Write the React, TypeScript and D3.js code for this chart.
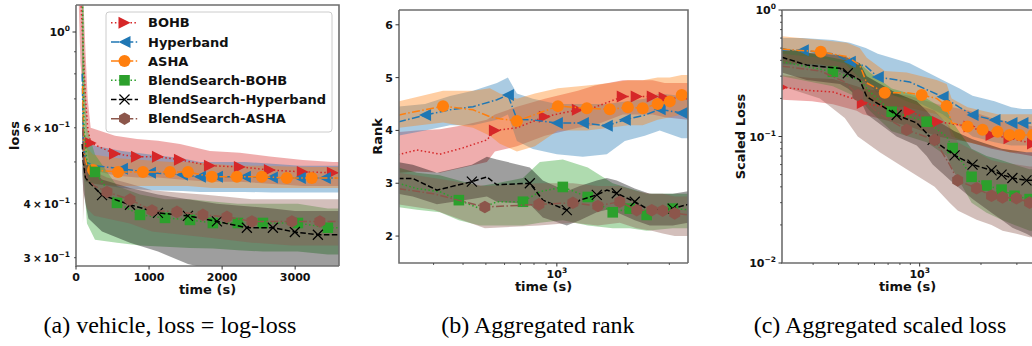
import React from 'react';
import * as d3 from 'd3';

type Row = [number, number, number, number, number]; // time, mean, lower, upper, marker flag

const NAMES = ['BOHB', 'Hyperband', 'ASHA', 'BlendSearch-BOHB', 'BlendSearch-Hyperband', 'BlendSearch-ASHA'];
const COLORS = ['#d62728', '#1f77b4', '#ff7f0e', '#2ca02c', '#000000', '#8c564b'];
const DASHES = ['1.5,2.4', '8,2.4,1.5,2.4', '8,2.4,1.5,2.4', '1.5,2.4', '5.5,2.4', '8,2.4,1.5,2.4'];
const MARKERS = ['tri-right', 'tri-left', 'circle', 'square', 'x', 'hexagon'];

// ---------- Panel (a): vehicle loss ----------
const A_BOHB: Row[] = [
  [30, 1.6, 1.3, 2.0, 0], [60, 1.25, 0.85, 1.6, 0], [100, 0.9, 0.7, 1.2, 0], [130, 0.7, 0.58, 0.9, 0],
  [160, 0.6, 0.52, 0.7, 0], [201, 0.553, 0.48, 0.6, 1], [534, 0.522, 0.465, 0.575, 1], [834, 0.514, 0.46, 0.565, 1],
  [1122, 0.514, 0.46, 0.56, 1], [1423, 0.506, 0.455, 0.55, 1], [1833, 0.49, 0.45, 0.53, 1], [2243, 0.487, 0.45, 0.525, 1],
  [2654, 0.479, 0.445, 0.515, 1], [3105, 0.474, 0.44, 0.505, 1], [3516, 0.472, 0.44, 0.5, 1], [3600, 0.472, 0.44, 0.5, 0],
];
const A_HYPERBAND: Row[] = [
  [85, 0.8, 0.6, 1.0, 0], [100, 0.55, 0.47, 0.65, 0], [130, 0.5, 0.45, 0.57, 0], [250, 0.49, 0.445, 0.545, 0],
  [629, 0.482, 0.435, 0.53, 1], [1012, 0.472, 0.43, 0.52, 1], [1450, 0.467, 0.428, 0.51, 1], [1696, 0.462, 0.426, 0.5, 1],
  [1929, 0.462, 0.426, 0.5, 1], [2312, 0.462, 0.426, 0.5, 1], [2681, 0.46, 0.425, 0.495, 1], [3064, 0.459, 0.425, 0.49, 1],
  [3406, 0.459, 0.425, 0.49, 1], [3600, 0.459, 0.425, 0.49, 0],
];
const A_ASHA: Row[] = [
  [90, 0.75, 0.55, 0.95, 0], [110, 0.52, 0.46, 0.6, 0], [150, 0.49, 0.45, 0.54, 0], [233, 0.479, 0.445, 0.52, 1],
  [575, 0.474, 0.44, 0.51, 1], [917, 0.474, 0.44, 0.505, 1], [1286, 0.474, 0.44, 0.5, 1], [1532, 0.474, 0.44, 0.5, 1],
  [1860, 0.462, 0.435, 0.495, 1], [2202, 0.462, 0.435, 0.49, 1], [2544, 0.462, 0.435, 0.49, 1], [2886, 0.459, 0.435, 0.488, 1],
  [3228, 0.459, 0.435, 0.487, 1], [3600, 0.459, 0.435, 0.487, 0],
];
const A_BS_BOHB: Row[] = [
  [80, 1.5, 0.9, 1.6, 0], [95, 1.0, 0.6, 1.4, 0], [110, 0.6, 0.45, 0.9, 0], [150, 0.5, 0.36, 0.6, 0],
  [260, 0.474, 0.33, 0.52, 1], [561, 0.402, 0.325, 0.44, 1], [876, 0.377, 0.32, 0.42, 1], [1218, 0.371, 0.318, 0.41, 1],
  [1560, 0.367, 0.316, 0.41, 1], [1874, 0.361, 0.315, 0.405, 1], [2216, 0.361, 0.312, 0.4, 1], [2558, 0.361, 0.31, 0.4, 1],
  [3037, 0.361, 0.31, 0.4, 1], [3447, 0.352, 0.305, 0.39, 1], [3600, 0.352, 0.305, 0.39, 0],
];
const A_BS_HYPERBAND: Row[] = [
  [85, 0.55, 0.47, 0.62, 0], [100, 0.5, 0.43, 0.56, 0], [130, 0.46, 0.4, 0.51, 0], [170, 0.45, 0.37, 0.49, 0],
  [356, 0.419, 0.345, 0.455, 1], [739, 0.398, 0.325, 0.435, 1], [1122, 0.381, 0.31, 0.42, 1], [1532, 0.375, 0.29, 0.41, 1],
  [1929, 0.364, 0.28, 0.4, 1], [2339, 0.352, 0.28, 0.395, 1], [2695, 0.352, 0.28, 0.39, 1], [2996, 0.344, 0.28, 0.385, 1],
  [3311, 0.339, 0.28, 0.385, 1], [3600, 0.339, 0.28, 0.385, 0],
];
const A_BS_ASHA: Row[] = [
  [95, 0.6, 0.36, 0.68, 0], [110, 0.5, 0.42, 0.55, 0], [150, 0.46, 0.39, 0.5, 0], [250, 0.44, 0.375, 0.475, 0],
  [424, 0.426, 0.37, 0.46, 1], [739, 0.409, 0.36, 0.445, 1], [1040, 0.386, 0.345, 0.43, 1], [1382, 0.383, 0.34, 0.425, 1],
  [1737, 0.377, 0.335, 0.42, 1], [2066, 0.373, 0.33, 0.415, 1], [2408, 0.364, 0.325, 0.41, 1], [2955, 0.364, 0.32, 0.41, 1],
  [3338, 0.364, 0.32, 0.41, 1], [3600, 0.364, 0.32, 0.41, 0],
];

// ---------- Panel (b): aggregated rank ----------
const B_BOHB: Row[] = [
  [212, 3.54, 3.2, 3.97, 0], [255, 3.63, 3.22, 4.0, 0], [319, 3.55, 3.2, 4.02, 0], [400, 3.67, 3.3, 4.1, 0],
  [505, 3.82, 3.4, 4.2, 0], [546, 4.0, 3.6, 4.3, 1], [677, 4.05, 3.7, 4.45, 0], [889, 4.26, 3.9, 4.6, 1],
  [1227, 4.39, 4.05, 4.75, 1], [1449, 4.44, 4.1, 4.85, 0], [1903, 4.64, 4.3, 4.95, 1], [2181, 4.64, 4.3, 4.95, 1],
  [2551, 4.64, 4.3, 4.95, 1], [2867, 4.62, 4.25, 4.9, 1], [3600, 4.6, 4.2, 4.9, 0],
];
const B_HYPERBAND: Row[] = [
  [212, 4.16, 3.9, 4.45, 0], [276, 4.29, 4.0, 4.5, 1], [352, 4.39, 4.1, 4.65, 0], [441, 4.45, 4.1, 4.75, 0],
  [557, 4.58, 4.2, 4.9, 0], [620, 4.67, 4.3, 5.0, 1], [677, 4.21, 3.8, 4.7, 0], [791, 4.2, 3.65, 4.6, 0],
  [1000, 4.14, 3.55, 4.5, 1], [1289, 4.14, 3.5, 4.5, 1], [1629, 4.09, 3.55, 4.5, 1], [1942, 4.2, 3.8, 4.55, 1],
  [2360, 4.29, 3.9, 4.6, 0], [2731, 4.4, 4.0, 4.7, 1], [3386, 4.33, 3.85, 4.65, 1], [3600, 4.35, 3.85, 4.65, 0],
];
const B_ASHA: Row[] = [
  [212, 4.29, 4.05, 4.55, 0], [329, 4.46, 4.15, 4.75, 1], [441, 4.39, 4.05, 4.75, 0], [520, 4.26, 3.9, 4.8, 0],
  [573, 4.22, 3.75, 4.7, 0], [677, 4.18, 3.6, 4.6, 1], [807, 4.3, 3.7, 4.7, 0], [1010, 4.46, 4.0, 4.8, 1],
  [1340, 4.42, 4.0, 4.85, 1], [1677, 4.4, 4.05, 4.9, 1], [2000, 4.44, 4.1, 4.95, 1], [2313, 4.42, 4.1, 4.95, 1],
  [2676, 4.5, 4.2, 5.0, 1], [3013, 4.55, 4.25, 5.0, 1], [3386, 4.67, 4.3, 5.05, 1], [3600, 4.7, 4.3, 5.05, 0],
];
const B_BS_BOHB: Row[] = [
  [212, 3.0, 2.55, 3.3, 0], [255, 2.9, 2.5, 3.2, 0], [319, 2.84, 2.45, 3.15, 0], [384, 2.68, 2.3, 3.05, 1],
  [472, 2.52, 2.2, 2.95, 0], [557, 2.65, 2.2, 3.0, 0], [718, 2.65, 2.2, 3.1, 1], [847, 2.84, 2.25, 3.4, 0],
  [1060, 2.93, 2.3, 3.45, 1], [1353, 2.74, 2.2, 3.3, 1], [1726, 2.45, 2.15, 3.0, 1], [2038, 2.52, 2.15, 2.9, 1],
  [2404, 2.4, 2.1, 2.8, 1], [3101, 2.52, 2.15, 2.8, 1], [3600, 2.5, 2.15, 2.8, 0],
];
const B_BS_HYPERBAND: Row[] = [
  [212, 3.09, 2.8, 3.4, 0], [245, 3.09, 2.75, 3.35, 0], [310, 2.87, 2.6, 3.2, 0], [436, 3.03, 2.7, 3.35, 1],
  [505, 3.12, 2.75, 3.5, 0], [557, 2.97, 2.65, 3.45, 0], [768, 3.0, 2.6, 3.3, 1], [872, 2.68, 2.35, 3.05, 0],
  [1102, 2.49, 2.2, 2.85, 1], [1252, 2.68, 2.3, 2.95, 0], [1477, 2.78, 2.45, 3.05, 1], [1629, 2.87, 2.5, 3.1, 0],
  [1795, 2.81, 2.45, 3.05, 1], [2140, 2.65, 2.3, 2.9, 1], [2477, 2.49, 2.2, 2.8, 0], [3101, 2.52, 2.2, 2.8, 1],
  [3600, 2.6, 2.25, 2.85, 0],
];
const B_BS_ASHA: Row[] = [
  [212, 2.9, 2.6, 3.2, 0], [300, 2.8, 2.5, 3.1, 0], [495, 2.55, 2.15, 2.95, 1], [839, 2.6, 2.2, 3.0, 1],
  [1169, 2.63, 2.25, 3.0, 1], [1492, 2.57, 2.2, 2.95, 1], [1849, 2.65, 2.25, 2.95, 1], [2181, 2.49, 2.15, 2.85, 1],
  [2527, 2.49, 2.1, 2.8, 1], [2812, 2.48, 2.05, 2.8, 1], [3162, 2.43, 2.0, 2.75, 1], [3600, 2.4, 2.0, 2.75, 0],
];

// ---------- Panel (c): aggregated scaled loss ----------
const C_BOHB: Row[] = [
  [211, 0.245, 0.195, 0.305, 1], [296, 0.23, 0.19, 0.29, 0], [375, 0.225, 0.18, 0.285, 0], [491, 0.195, 0.16, 0.25, 0],
  [526, 0.184, 0.15, 0.24, 1], [893, 0.157, 0.12, 0.21, 1], [1225, 0.131, 0.1, 0.18, 1], [1757, 0.12, 0.09, 0.16, 1],
  [2253, 0.103, 0.08, 0.14, 1], [2760, 0.097, 0.075, 0.13, 1], [3600, 0.088, 0.07, 0.12, 1],
];
const C_HYPERBAND: Row[] = [
  [211, 0.48, 0.37, 0.6, 0], [267, 0.48, 0.37, 0.6, 1], [375, 0.45, 0.34, 0.58, 0], [454, 0.39, 0.3, 0.55, 1],
  [544, 0.36, 0.27, 0.5, 0], [623, 0.295, 0.22, 0.45, 1], [893, 0.27, 0.2, 0.38, 0], [1296, 0.206, 0.15, 0.28, 1],
  [1570, 0.17, 0.12, 0.24, 0], [1818, 0.148, 0.1, 0.21, 1], [2330, 0.135, 0.09, 0.19, 1], [2823, 0.128, 0.085, 0.17, 1],
  [3196, 0.128, 0.085, 0.165, 1], [3600, 0.128, 0.085, 0.165, 0],
];
const C_ASHA: Row[] = [
  [211, 0.489, 0.38, 0.62, 0], [327, 0.468, 0.37, 0.58, 1], [439, 0.428, 0.33, 0.55, 0], [508, 0.367, 0.28, 0.5, 0],
  [550, 0.265, 0.2, 0.42, 0], [674, 0.222, 0.17, 0.33, 1], [863, 0.222, 0.17, 0.32, 0], [1023, 0.213, 0.16, 0.3, 1],
  [1211, 0.2, 0.15, 0.28, 0], [1356, 0.174, 0.13, 0.26, 1], [1435, 0.128, 0.1, 0.2, 0], [1718, 0.12, 0.09, 0.17, 1],
  [2036, 0.113, 0.085, 0.16, 1], [2412, 0.109, 0.08, 0.15, 1], [2760, 0.103, 0.075, 0.15, 1], [3089, 0.103, 0.075, 0.15, 1],
  [3600, 0.103, 0.075, 0.15, 1],
];
const C_BS_BOHB: Row[] = [
  [211, 0.39, 0.3, 0.5, 0], [375, 0.325, 0.25, 0.42, 1], [508, 0.28, 0.2, 0.38, 0], [569, 0.226, 0.16, 0.32, 0],
  [729, 0.157, 0.11, 0.24, 1], [1082, 0.131, 0.09, 0.2, 1], [1356, 0.1, 0.07, 0.16, 0], [1451, 0.081, 0.055, 0.13, 1],
  [1624, 0.062, 0.04, 0.1, 0], [1798, 0.048, 0.03, 0.08, 1], [2130, 0.041, 0.025, 0.07, 1], [2524, 0.038, 0.022, 0.065, 1],
  [2922, 0.034, 0.02, 0.06, 1], [3465, 0.032, 0.018, 0.055, 1], [3600, 0.032, 0.018, 0.055, 0],
];
const C_BS_HYPERBAND: Row[] = [
  [211, 0.423, 0.32, 0.5, 0], [279, 0.367, 0.28, 0.46, 0], [406, 0.346, 0.26, 0.44, 0], [444, 0.316, 0.24, 0.42, 1],
  [508, 0.28, 0.2, 0.38, 0], [550, 0.206, 0.15, 0.3, 0], [771, 0.148, 0.1, 0.22, 1], [967, 0.128, 0.085, 0.19, 0],
  [1082, 0.106, 0.07, 0.16, 0], [1158, 0.094, 0.06, 0.14, 1], [1484, 0.071, 0.042, 0.11, 1], [1818, 0.06, 0.032, 0.095, 1],
  [2253, 0.054, 0.025, 0.085, 1], [2524, 0.05, 0.022, 0.08, 1], [2853, 0.047, 0.019, 0.078, 1], [3344, 0.045, 0.017, 0.075, 1],
  [3600, 0.045, 0.016, 0.075, 0],
];
const C_BS_ASHA: Row[] = [
  [211, 0.36, 0.25, 0.45, 0], [324, 0.33, 0.2, 0.42, 0], [429, 0.27, 0.14, 0.38, 0], [497, 0.213, 0.1, 0.3, 1],
  [637, 0.15, 0.075, 0.24, 0], [863, 0.113, 0.055, 0.19, 1], [1184, 0.094, 0.04, 0.16, 1], [1403, 0.06, 0.03, 0.12, 0],
  [1536, 0.045, 0.026, 0.09, 1], [1903, 0.039, 0.022, 0.075, 1], [2253, 0.034, 0.02, 0.065, 1], [2551, 0.033, 0.018, 0.062, 1],
  [2986, 0.0325, 0.017, 0.06, 1], [3465, 0.03, 0.016, 0.058, 1], [3600, 0.03, 0.016, 0.058, 0],
];

// ---------- ticks & labels ----------
const A_X_TICKS = [0, 1000, 2000, 3000];
const A_Y_MAJOR = [1];
const A_Y_MINOR = [0.3, 0.4, 0.5, 0.6, 0.7, 0.8, 0.9];
const A_Y_MINOR_LABELED = [0.3, 0.4, 0.6];
const B_X_MAJOR = [1000];
const B_X_MINOR = [300, 400, 500, 600, 700, 800, 900, 2000, 3000];
const B_Y_TICKS = [2, 3, 4, 5, 6];
const C_X_MAJOR = [1000];
const C_X_MINOR = [300, 400, 500, 600, 700, 800, 900, 2000, 3000];
const C_Y_MAJOR = [0.01, 0.1, 1];
const C_Y_MINOR = [0.02, 0.03, 0.04, 0.05, 0.06, 0.07, 0.08, 0.09, 0.2, 0.3, 0.4, 0.5, 0.6, 0.7, 0.8, 0.9];
const X_LABEL = 'time (s)';
const Y_LABELS = ['loss', 'Rank', 'Scaled Loss'];
const CAPTIONS = ['(a) vehicle, loss = log-loss', '(b) Aggregated rank', '(c) Aggregated scaled loss'];

const SANS = "'DejaVu Sans', sans-serif";
const SERIF = "'Liberation Serif', 'Times New Roman', Times, serif";
const W = 1032;
const H = 346;
const TICK_COLOR = '#333';
const SPINE_COLOR = '#6e6e6e';

function Marker({ type, x, y, color }: { type: string; x: number; y: number; color: string }) {
  const s = 12;
  const h = s / 2;
  if (type === 'tri-right') return <path d={`M${x + h},${y}L${x - h},${y - h}L${x - h},${y + h}Z`} fill={color} />;
  if (type === 'tri-left') return <path d={`M${x - h},${y}L${x + h},${y - h}L${x + h},${y + h}Z`} fill={color} />;
  if (type === 'circle') return <circle cx={x} cy={y} r={6} fill={color} />;
  if (type === 'square') return <rect x={x - 5.3} y={y - 5.3} width={10.6} height={10.6} fill={color} />;
  if (type === 'x')
    return (
      <path d={`M${x - 5},${y - 5}L${x + 5},${y + 5}M${x - 5},${y + 5}L${x + 5},${y - 5}`} stroke={color} strokeWidth={1.2} fill="none" />
    );
  const r = 6.3;
  const pts = d3.range(6).map((i) => {
    const a = (Math.PI / 180) * (90 + 60 * i);
    return `${x + r * Math.cos(a)},${y - r * Math.sin(a)}`;
  });
  return <path d={`M${pts.join('L')}Z`} fill={color} />;
}

function Pow({ base, exp }: { base: string; exp: string }) {
  return (
    <>
      {base}
      <tspan dy={-5} fontSize={7.5}>
        {exp}
      </tspan>
    </>
  );
}

function fmtExp(v: number): string {
  const e = Math.round(Math.log10(v));
  return e < 0 ? `\u2212${-e}` : `${e}`;
}

type PanelProps = {
  id: string;
  x0: number; x1: number; y0: number; y1: number;
  xScale: any; yScale: any;
  series: Row[][];
  xMajor: number[]; xMinor: number[]; xLog: boolean;
  yMajor: number[]; yMinor: number[]; yMinorLabeled: number[]; yLog: boolean;
  yLabel: string; yLabelX: number;
};

function Panel(p: PanelProps) {
  const { x0, x1, y0, y1, xScale: xs, yScale: ys } = p;
  const area = d3.area<Row>().x((d) => xs(d[0])).y0((d) => ys(d[2])).y1((d) => ys(d[3]));
  const line = d3.line<Row>().x((d) => xs(d[0])).y((d) => ys(d[1]));
  const right = Math.min(x1, W + 5);
  return (
    <g>
      <defs>
        <clipPath id={p.id}>
          <rect x={x0} y={y0} width={x1 - x0} height={y1 - y0} />
        </clipPath>
      </defs>
      <g clipPath={`url(#${p.id})`}>
        {p.series.map((s, i) => (
          <path key={'b' + i} d={area(s) || ''} fill={COLORS[i]} fillOpacity={0.38} stroke="none" />
        ))}
        {p.series.map((s, i) => (
          <g key={'l' + i}>
            <path d={line(s) || ''} fill="none" stroke={COLORS[i]} strokeWidth={1.5} strokeDasharray={DASHES[i]} />
            {s.filter((d) => d[4] === 1).map((d, j) => (
              <Marker key={j} type={MARKERS[i]} x={xs(d[0])} y={ys(d[1])} color={COLORS[i]} />
            ))}
          </g>
        ))}
      </g>
      {/* spines */}
      <path d={`M${x0},${y0}L${x0},${y1}L${right},${y1}`} fill="none" stroke={SPINE_COLOR} strokeWidth={1.6} />
      <path d={`M${x0},${y0}L${right},${y0}${x1 <= W ? `L${x1},${y1}` : ''}`} fill="none" stroke={SPINE_COLOR} strokeWidth={1.6} />
      {/* x ticks */}
      {p.xMajor.map((t) => (
        <g key={'xm' + t}>
          <line x1={xs(t)} x2={xs(t)} y1={y1} y2={y1 + 3.5} stroke={TICK_COLOR} strokeWidth={1} />
          <text x={xs(t)} y={y1 + 15} textAnchor="middle" fontFamily={SANS} fontWeight="bold" fontSize={11} fill="#111">
            {p.xLog ? <Pow base="10" exp={fmtExp(t)} /> : `${t}`}
          </text>
        </g>
      ))}
      {p.xMinor.map((t) => (
        <line key={'xn' + t} x1={xs(t)} x2={xs(t)} y1={y1} y2={y1 + 2} stroke={TICK_COLOR} strokeWidth={0.8} />
      ))}
      {/* y ticks */}
      {p.yMajor.map((v) => (
        <g key={'ym' + v}>
          <line x1={x0} x2={x0 - 3.5} y1={ys(v)} y2={ys(v)} stroke={TICK_COLOR} strokeWidth={1} />
          <text x={x0 - 6} y={ys(v) + 4} textAnchor="end" fontFamily={SANS} fontWeight="bold" fontSize={11} fill="#111">
            {p.yLog ? <Pow base="10" exp={fmtExp(v)} /> : `${v}`}
          </text>
        </g>
      ))}
      {p.yMinor.map((v) => (
        <line key={'yn' + v} x1={x0} x2={x0 - 2} y1={ys(v)} y2={ys(v)} stroke={TICK_COLOR} strokeWidth={0.8} />
      ))}
      {p.yMinorLabeled.map((v) => {
        const e = Math.floor(Math.log10(v) + 1e-9);
        const mant = Math.round(v / Math.pow(10, e));
        return (
          <text key={'yl' + v} x={x0 - 6} y={ys(v) + 4} textAnchor="end" fontFamily={SANS} fontWeight="bold" fontSize={10.5} fill="#111">
            <Pow base={`${mant}\u2009\u00d7\u200910`} exp={e < 0 ? `\u2212${-e}` : `${e}`} />
          </text>
        );
      })}
      {/* axis labels */}
      <text x={(x0 + x1) / 2} y={y1 + 28} textAnchor="middle" fontFamily={SANS} fontWeight="bold" fontSize={13} fill="#111">
        {X_LABEL}
      </text>
      <text
        transform={`translate(${p.yLabelX},${(y0 + y1) / 2}) rotate(-90)`}
        textAnchor="middle"
        fontFamily={SANS}
        fontWeight="bold"
        fontSize={13}
        fill="#111"
      >
        {p.yLabel}
      </text>
    </g>
  );
}

function Legend() {
  const lx = 106, ly = 12, lw = 226, lh = 120;
  return (
    <g>
      <rect x={lx} y={ly} width={lw} height={lh} rx={3} fill="#fff" fillOpacity={0.85} stroke="#cccccc" strokeWidth={1} />
      {NAMES.map((n, i) => {
        const cy = 22.7 + i * 19.2;
        return (
          <g key={n}>
            <line x1={111} x2={138} y1={cy} y2={cy} stroke={COLORS[i]} strokeWidth={1.5} strokeDasharray={DASHES[i]} />
            <Marker type={MARKERS[i]} x={124.5} y={cy} color={COLORS[i]} />
            <text x={148} y={cy + 4.6} fontFamily={SANS} fontWeight="bold" fontSize={13} fill="#111">
              {n}
            </text>
          </g>
        );
      })}
    </g>
  );
}

export default function App() {
  const ax = d3.scaleLinear().domain([0, 3600]).range([76, 339]);
  const ay = d3.scaleLog().domain([0.287, 1.155]).range([266, 5]);
  const bx = d3.scaleLog().domain([214, 3600]).range([399, 688]);
  const by = d3.scaleLinear().domain([1.49, 6.28]).range([263, 10]);
  const cx = d3.scaleLog().domain([211, 3600]).range([782, 1033]);
  const cy = d3.scaleLog().domain([0.01, 1]).range([263, 10]);
  return (
    <svg
      width={W}
      height={H}
      viewBox={`0 0 ${W} ${H}`}
      style={{ position: 'absolute', left: 0, top: 0, display: 'block', background: '#fff' }}
    >
      <rect x={0} y={0} width={W} height={H} fill="#fff" />
      <Panel
        id="clipA" x0={76} x1={339} y0={5} y1={266} xScale={ax} yScale={ay}
        series={[A_BOHB, A_HYPERBAND, A_ASHA, A_BS_BOHB, A_BS_HYPERBAND, A_BS_ASHA]}
        xMajor={A_X_TICKS} xMinor={[]} xLog={false}
        yMajor={A_Y_MAJOR} yMinor={A_Y_MINOR} yMinorLabeled={A_Y_MINOR_LABELED} yLog={true}
        yLabel={Y_LABELS[0]} yLabelX={19}
      />
      <Legend />
      <Panel
        id="clipB" x0={399} x1={688} y0={10} y1={263} xScale={bx} yScale={by}
        series={[B_BOHB, B_HYPERBAND, B_ASHA, B_BS_BOHB, B_BS_HYPERBAND, B_BS_ASHA]}
        xMajor={B_X_MAJOR} xMinor={B_X_MINOR} xLog={true}
        yMajor={B_Y_TICKS} yMinor={[]} yMinorLabeled={[]} yLog={false}
        yLabel={Y_LABELS[1]} yLabelX={382}
      />
      <Panel
        id="clipC" x0={782} x1={1033} y0={10} y1={263} xScale={cx} yScale={cy}
        series={[C_BOHB, C_HYPERBAND, C_ASHA, C_BS_BOHB, C_BS_HYPERBAND, C_BS_ASHA]}
        xMajor={C_X_MAJOR} xMinor={C_X_MINOR} xLog={true}
        yMajor={C_Y_MAJOR} yMinor={C_Y_MINOR} yMinorLabeled={[]} yLog={true}
        yLabel={Y_LABELS[2]} yLabelX={745}
      />
      {CAPTIONS.map((c, i) => (
        <text key={c} x={[170, 538, 880][i]} y={333} textAnchor="middle" fontFamily={SERIF} fontSize={24} fill="#000">
          {c}
        </text>
      ))}
    </svg>
  );
}
